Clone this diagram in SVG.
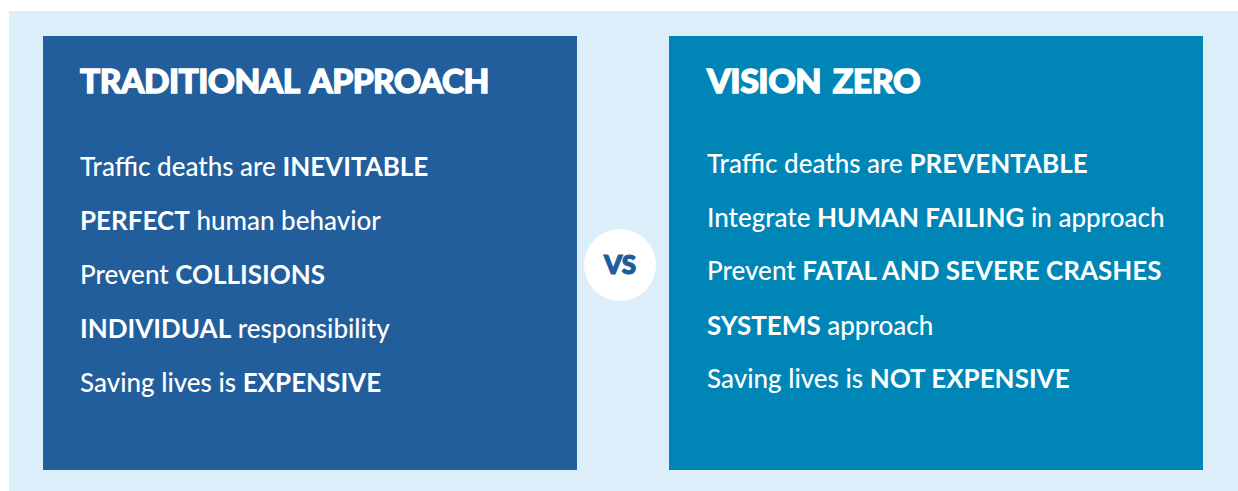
<svg xmlns="http://www.w3.org/2000/svg" width="1238" height="491" viewBox="0 0 1238 491">
<style>
.title{font-family:Lato,"Liberation Sans",sans-serif;font-weight:900;font-size:33px;fill:#ffffff;stroke:#ffffff;stroke-width:1.3px;letter-spacing:-0.5px;word-spacing:4px}
.body{font-family:Lato,"Liberation Sans",sans-serif;font-weight:500;font-size:26px;fill:#ffffff}
.b{font-weight:700}
.vs{font-family:Lato,"Liberation Sans",sans-serif;font-weight:900;font-size:26px;fill:#1f5c9e;stroke:#1f5c9e;stroke-width:1.2px}
</style>
<rect x="0" y="0" width="1238" height="491" fill="#ffffff"/>
<rect x="9" y="11" width="1229" height="480" fill="#dbeefa"/>
<g id="traditional">
<rect x="43" y="36" width="534" height="434" fill="#215e9b"/>
<text class="title" x="80" y="93" textLength="409" lengthAdjust="spacingAndGlyphs">TRADITIONAL APPROACH</text>
<text class="body" x="80" y="176">Traffic deaths are <tspan class="b">INEVITABLE</tspan></text>
<text class="body" x="80" y="230"><tspan class="b">PERFECT</tspan> human behavior</text>
<text class="body" x="80" y="284">Prevent <tspan class="b">COLLISIONS</tspan></text>
<text class="body" x="80" y="338"><tspan class="b">INDIVIDUAL</tspan> responsibility</text>
<text class="body" x="80" y="392">Saving lives is <tspan class="b">EXPENSIVE</tspan></text>
</g>
<g id="vision-zero">
<rect x="669" y="36" width="534" height="434" fill="#0085b7"/>
<text class="title" x="707" y="93" textLength="213" lengthAdjust="spacingAndGlyphs">VISION ZERO</text>
<text class="body" x="707" y="173">Traffic deaths are <tspan class="b">PREVENTABLE</tspan></text>
<text class="body" x="707" y="227">Integrate <tspan class="b">HUMAN FAILING</tspan> in approach</text>
<text class="body" x="707" y="280">Prevent <tspan class="b">FATAL AND SEVERE CRASHES</tspan></text>
<text class="body" x="707" y="335"><tspan class="b">SYSTEMS</tspan> approach</text>
<text class="body" x="707" y="388">Saving lives is <tspan class="b">NOT EXPENSIVE</tspan></text>
</g>
<g id="vs">
<circle cx="620" cy="265" r="36" fill="#ffffff"/>
<text class="vs" x="620" y="274" text-anchor="middle">VS</text>
</g>
</svg>
